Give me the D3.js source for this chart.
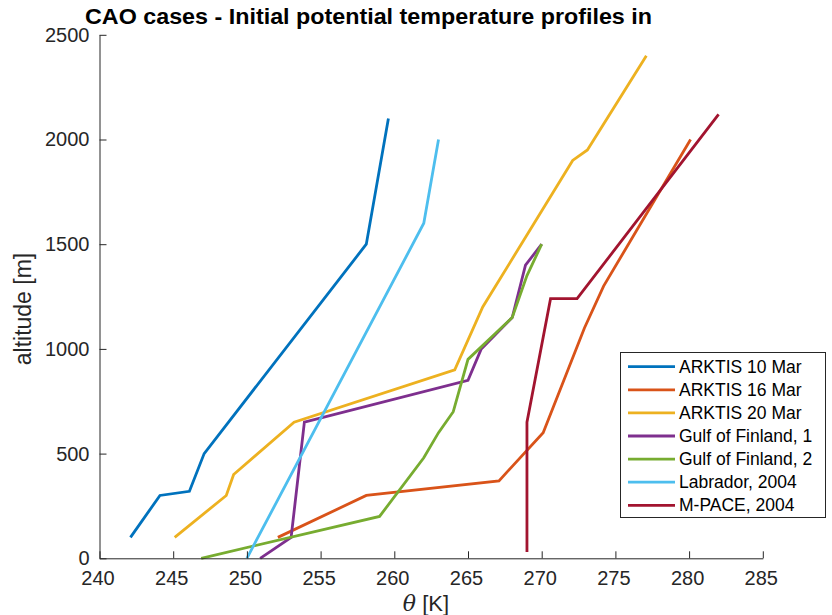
<!DOCTYPE html>
<html>
<head>
<meta charset="utf-8">
<script src="https://cdn.jsdelivr.net/npm/d3@7"></script>
<style>
  html, body { margin: 0; padding: 0; background: #fff; }
  svg { display: block; }
  text { font-family: "Liberation Sans", Arial, Helvetica, sans-serif; }
</style>
</head>
<body>
<svg id="chart" width="832" height="615"></svg>
<script>
// ---- data ----
const seriesNames = ["ARKTIS 10 Mar", "ARKTIS 16 Mar", "ARKTIS 20 Mar", "Gulf of Finland, 1", "Gulf of Finland, 2", "Labrador, 2004", "M-PACE, 2004"];
const seriesColors = ["#0072BD", "#D95319", "#EDB120", "#7E2F8E", "#77AC30", "#4DBEEE", "#A2142F"];

const arktis10Theta = [242.1, 244.1, 246.1, 247.1, 258.1, 259.6];
const arktis10Alt   = [100, 300, 320, 500, 1500, 2100];

const arktis16Theta = [252.1, 258.1, 267.1, 270.1, 272.9, 274.2, 280.1];
const arktis16Alt   = [100, 300, 370, 600, 1100, 1300, 2000];

const arktis20Theta = [245.1, 248.6, 249.1, 253.2, 264.1, 266.0, 272.1, 273.1, 277.1];
const arktis20Alt   = [100, 300, 400, 650, 900, 1200, 1900, 1950, 2400];

const gulf1Theta = [250.9, 253.0, 253.9, 265.0, 265.9, 268.0, 268.9, 270.0];
const gulf1Alt   = [0, 100, 650, 850, 1000, 1150, 1400, 1500];

const gulf2Theta = [246.9, 259.0, 262.0, 263.0, 264.0, 265.0, 268.0, 269.0, 270.0];
const gulf2Alt   = [0, 200, 480, 600, 700, 950, 1150, 1350, 1500];

const labradorTheta = [250.0, 262.0, 263.0];
const labradorAlt   = [0, 1600, 2000];

const mpaceTheta = [269.0, 269.0, 270.6, 272.4, 282.0];
const mpaceAlt   = [30, 650, 1240, 1240, 2120];

const xTicks = [240, 245, 250, 255, 260, 265, 270, 275, 280, 285];
const yTicks = [0, 500, 1000, 1500, 2000, 2500];

const titleText = "CAO cases - Initial potential temperature profiles in";
const yLabelText = "altitude [m]";

// ---- build ----
const thetas = [arktis10Theta, arktis16Theta, arktis20Theta, gulf1Theta, gulf2Theta, labradorTheta, mpaceTheta];
const alts = [arktis10Alt, arktis16Alt, arktis20Alt, gulf1Alt, gulf2Alt, labradorAlt, mpaceAlt];
const series = seriesNames.map((n, i) => ({
  name: n, color: seriesColors[i],
  pts: thetas[i].map((t, j) => [t, alts[i][j]])
}));

const svg = d3.select("#chart");
const axisColor = "#262626";

const x = d3.scaleLinear().domain([240, 285]).range([99.5, 762.8]);
const y = d3.scaleLinear().domain([0, 2500]).range([558.3, 34.8]);

// lines
const line = d3.line().x(d => x(d[0])).y(d => y(d[1]));
svg.append("g").selectAll("path").data(series).join("path")
  .attr("d", d => line(d.pts))
  .attr("fill", "none")
  .attr("stroke", d => d.color)
  .attr("stroke-width", 2.8)
  .attr("stroke-linejoin", "miter")
  .attr("stroke-linecap", "butt");

// axes
const xAxis = d3.axisBottom(x).tickValues(xTicks).tickFormat(d3.format("d"))
  .tickSizeInner(-7).tickSizeOuter(0).tickPadding(13);
const gx = svg.append("g").attr("transform", `translate(0,${y(0)})`).call(xAxis);
gx.selectAll("path, line").attr("stroke", axisColor).attr("stroke-width", 1);
gx.selectAll("text").attr("fill", axisColor).attr("font-size", 20)
  .attr("font-family", '"Liberation Sans", Arial, sans-serif').attr("dx", -2);

const yAxis = d3.axisLeft(y).tickValues(yTicks).tickFormat(d3.format("d"))
  .tickSizeInner(-7).tickSizeOuter(0).tickPadding(10);
const gy = svg.append("g").attr("transform", `translate(${x(240)},0)`).call(yAxis);
gy.selectAll("path, line").attr("stroke", axisColor).attr("stroke-width", 1);
gy.selectAll("text").attr("fill", axisColor).attr("font-size", 20)
  .attr("font-family", '"Liberation Sans", Arial, sans-serif');

// axis labels
const xl = svg.append("text").attr("x", 426).attr("y", 611).attr("text-anchor", "middle")
  .attr("font-size", 22).attr("fill", axisColor);
xl.append("tspan").attr("font-family", '"DejaVu Serif", "Liberation Serif", serif').attr("font-style", "italic").text("θ");
xl.append("tspan").text(" [K]");

svg.append("text")
  .attr("transform", `translate(31,309) rotate(-90)`)
  .attr("text-anchor", "middle").attr("font-size", 23).attr("fill", axisColor)
  .text(yLabelText);

// title
svg.append("text").attr("x", 85).attr("y", 24)
  .attr("font-size", 22.5).attr("font-weight", "bold").attr("fill", "#000")
  .attr("textLength", 567).attr("lengthAdjust", "spacingAndGlyphs")
  .text(titleText);

// legend
const lg = svg.append("g");
lg.append("rect").attr("x", 620.5).attr("y", 352.5).attr("width", 205).attr("height", 165)
  .attr("fill", "#fff").attr("stroke", axisColor).attr("stroke-width", 1);
const rows = lg.selectAll("g.row").data(series).join("g").attr("class", "row")
  .attr("transform", (d, i) => `translate(0,${366.7 + i * 23.1})`);
rows.append("line").attr("x1", 628).attr("x2", 675).attr("y1", 0).attr("y2", 0)
  .attr("stroke", d => d.color).attr("stroke-width", 2.8);
rows.append("text").attr("x", 679).attr("y", 0).attr("dy", "0.35em")
  .attr("font-size", 17.5).attr("fill", "#000").text(d => d.name);
</script>
</body>
</html>
